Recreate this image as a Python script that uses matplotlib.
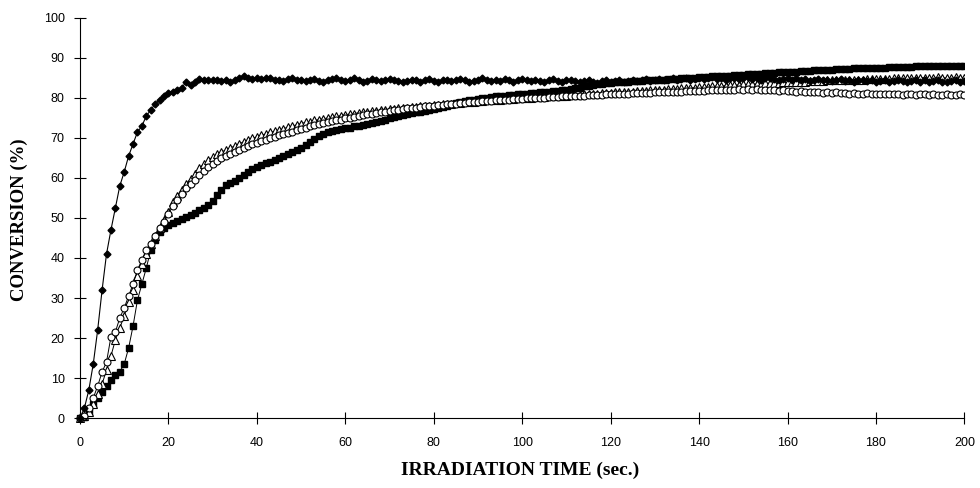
import numpy as np
import matplotlib
matplotlib.use("Agg")
from matplotlib import pyplot as plt

# irradiation time, one reading per second
time = np.arange(0, 201, 1)

# filled diamonds
diamonds = [
    0, 2.5, 7, 13.5, 22, 32, 41, 47, 52.5, 58,
    61.5, 65.5, 68.5, 71.5, 73, 75.5, 77, 78.5, 79.5, 80.5,
    81.2, 81.6, 82, 82.5, 84, 83.3, 84, 84.7, 84.4, 84.5,
    84.6, 84.6, 84.3, 84.5, 84.1, 84.4, 84.9, 85.4, 85.1, 84.8,
    85.0, 84.7, 85.1, 84.9, 84.5, 84.6, 84.3, 84.8, 85.0, 84.6,
    84.4, 84.2, 84.5, 84.8, 84.3, 84.0, 84.4, 84.7, 85.0, 84.6,
    84.3, 84.5, 84.9, 84.4, 84.1, 84.3, 84.7, 84.4, 84.2, 84.6,
    84.8, 84.5, 84.2, 84.0, 84.3, 84.6, 84.4, 84.1, 84.5, 84.7,
    84.3, 84.1, 84.4, 84.6, 84.2, 84.5, 84.8, 84.4, 84.0, 84.3,
    84.6, 84.9, 84.5, 84.2, 84.6, 84.3, 84.7, 84.4, 84.1, 84.5,
    84.8, 84.4, 84.2, 84.6, 84.3, 84.0, 84.4, 84.7, 84.3, 84.1,
    84.4, 84.6, 84.2, 83.9, 84.3, 84.5, 84.1, 83.8, 84.2, 84.4,
    84.0, 84.2, 84.5, 84.1, 84.3, 84.6, 84.2, 84.4, 84.7, 84.3,
    84.5, 84.8, 84.4, 84.6, 84.9, 84.5, 84.7, 85.0, 84.6, 84.8,
    85.1, 84.7, 84.9, 85.2, 84.8, 85.0, 84.6, 84.9, 85.1, 84.7,
    84.9, 85.2, 84.8, 85.0, 84.6, 84.9, 85.1, 84.7, 84.5, 84.8,
    85.0, 84.6, 84.9, 84.5, 84.7, 84.3, 84.6, 84.8, 84.4, 84.6,
    84.2, 84.5, 84.7, 84.3, 84.5, 84.1, 84.4, 84.6, 84.2, 84.4,
    84.0, 84.3, 84.5, 84.1, 84.3, 84.6, 84.2, 84.0, 84.3, 84.5,
    84.1, 84.4, 84.0, 84.2, 84.5, 84.1, 83.9, 84.2, 84.4, 84.0,
    84.2,
]

# open circles
circles = [
    0, 0.5, 2.5, 5, 8, 11.5, 14, 20.3, 21.5, 25,
    27.5, 30.5, 33.5, 37, 39.5, 42, 43.5, 45.5, 47.5, 49,
    51, 53, 54.5, 56, 57.5, 58.5, 59.5, 60.8, 61.8, 62.7,
    63.5, 64.2, 65, 65.5, 66, 66.5, 67, 67.5, 68, 68.4,
    68.8, 69.2, 69.6, 70, 70.3, 70.7, 71, 71.3, 71.6, 72,
    72.3, 72.6, 72.9, 73.2, 73.4, 73.7, 74, 74.2, 74.4, 74.6,
    74.9, 75.1, 75.3, 75.5, 75.7, 75.9, 76.1, 76.3, 76.4, 76.6,
    76.8, 76.9, 77.1, 77.2, 77.4, 77.5, 77.6, 77.8, 77.9, 78.0,
    78.1, 78.2, 78.3, 78.4, 78.5, 78.6, 78.7, 78.8, 78.9, 79.0,
    79.1, 79.2, 79.2, 79.3, 79.4, 79.5, 79.5, 79.6, 79.7, 79.7,
    79.8, 79.9, 79.9, 80.0, 80.1, 80.1, 80.2, 80.2, 80.3, 80.4,
    80.4, 80.5, 80.5, 80.6, 80.6, 80.7, 80.7, 80.8, 80.8, 80.9,
    80.9, 81.0, 81.0, 81.1, 81.1, 81.2, 81.2, 81.2, 81.3, 81.3,
    81.4, 81.4, 81.5, 81.5, 81.5, 81.6, 81.6, 81.7, 81.7, 81.7,
    81.8, 81.8, 81.9, 81.9, 82.0, 82.0, 82.0, 82.1, 82.1, 82.2,
    82.1, 82.2, 82.1, 82.2, 82.0, 82.1, 81.9, 82.0, 81.8, 81.9,
    81.7, 81.8, 81.6, 81.7, 81.5, 81.6, 81.4, 81.5, 81.3, 81.4,
    81.3, 81.4, 81.2, 81.3, 81.1, 81.2, 81.0, 81.1, 81.2, 81.0,
    81.1, 80.9, 81.0, 81.1, 80.9, 81.0, 80.8, 80.9, 81.0, 80.8,
    80.9, 81.0, 80.8, 80.9, 80.7, 80.8, 80.9, 80.7, 80.8, 80.9,
    80.8,
]

# open triangles
triangles = [
    0, 0.5, 1.5, 3.5, 6, 8.5, 12, 15.5, 19.5, 22.5,
    25.5, 29, 32, 35.5, 38.5, 41, 43.5, 45.5, 47.5, 49.5,
    51.5, 54, 55.5, 57, 58.5, 59.8, 61, 62.5, 63.5, 64.5,
    65.2, 66, 66.5, 67, 67.5, 68, 68.6, 69, 69.5, 69.9,
    70.3, 70.7, 71, 71.4, 71.7, 72, 72.3, 72.7, 73, 73.3,
    73.6, 73.9, 74.1, 74.4, 74.6, 74.8, 75.0, 75.2, 75.4, 75.6,
    75.8, 76.0, 76.1, 76.3, 76.4, 76.6, 76.7, 76.8, 77.0, 77.1,
    77.2, 77.3, 77.4, 77.5, 77.6, 77.7, 77.8, 77.9, 78.0, 78.1,
    78.2, 78.3, 78.4, 78.5, 78.6, 78.7, 78.8, 78.9, 79.0, 79.1,
    79.2, 79.3, 79.4, 79.4, 79.5, 79.6, 79.7, 79.7, 79.8, 79.9,
    80.0, 80.0, 80.1, 80.2, 80.2, 80.3, 80.4, 80.4, 80.5, 80.6,
    80.6, 80.7, 80.8, 80.8, 80.9, 81.0, 81.0, 81.1, 81.2, 81.2,
    81.3, 81.4, 81.4, 81.5, 81.6, 81.6, 81.7, 81.8, 81.8, 81.9,
    82.0, 82.0, 82.1, 82.2, 82.2, 82.3, 82.4, 82.4, 82.5, 82.6,
    82.7, 82.7, 82.8, 82.9, 83.0, 83.0, 83.1, 83.2, 83.2, 83.3,
    83.4, 83.4, 83.5, 83.5, 83.6, 83.7, 83.7, 83.8, 83.8, 83.9,
    83.9, 84.0, 84.0, 84.1, 84.1, 84.2, 84.2, 84.3, 84.3, 84.4,
    84.4, 84.4, 84.5, 84.5, 84.5, 84.6, 84.6, 84.6, 84.7, 84.7,
    84.7, 84.8, 84.8, 84.8, 84.9, 84.9, 84.9, 85.0, 85.0, 85.0,
    85.1, 85.1, 85.0, 85.1, 85.2, 85.1, 85.0, 85.1, 85.2, 85.1,
    85.0,
]

# filled squares
squares = [
    0, 0.3, 1.5, 3.5, 5, 6.5, 8, 9.5, 10.8, 11.6,
    13.5, 17.5, 23, 29.5, 33.5, 37.5, 42, 44.5, 46.5, 47.5,
    48.3, 48.8, 49.3, 49.8, 50.3, 50.8, 51.3, 52, 52.6, 53.2,
    54.3, 55.8, 57, 58.2, 58.8, 59.2, 60, 60.8, 61.6, 62.3,
    62.8, 63.3, 63.7, 64.1, 64.5, 65.0, 65.5, 66.1, 66.6, 67.0,
    67.5, 68.2, 69.0, 69.8, 70.5, 71.0, 71.4, 71.7, 72.0, 72.2,
    72.4, 72.6, 72.9, 73.1, 73.3, 73.5, 73.7, 74.0, 74.3, 74.6,
    74.9, 75.2, 75.5, 75.8, 76.0, 76.2, 76.4, 76.6, 76.8, 77.0,
    77.2, 77.5, 77.8, 78.1, 78.4, 78.7, 79.0, 79.2, 79.4, 79.6,
    79.8, 80.0, 80.1, 80.3, 80.4, 80.5, 80.6, 80.7, 80.8, 80.9,
    81.0, 81.1, 81.2, 81.3, 81.4, 81.5, 81.6, 81.7, 81.8, 81.9,
    82.0, 82.2, 82.4, 82.6, 82.9, 83.1, 83.3, 83.5, 83.6, 83.7,
    83.8, 83.9, 84.0, 84.0, 84.1, 84.2, 84.2, 84.3, 84.4, 84.4,
    84.5, 84.6, 84.6, 84.7, 84.8, 84.8, 84.9, 85.0, 85.0, 85.1,
    85.2, 85.2, 85.3, 85.4, 85.4, 85.5, 85.6, 85.6, 85.7, 85.8,
    85.8, 85.9, 86.0, 86.0, 86.1, 86.2, 86.2, 86.3, 86.4, 86.4,
    86.5, 86.6, 86.6, 86.7, 86.8, 86.8, 86.9, 87.0, 87.0, 87.1,
    87.1, 87.2, 87.2, 87.3, 87.3, 87.4, 87.4, 87.5, 87.5, 87.5,
    87.6, 87.6, 87.6, 87.7, 87.7, 87.7, 87.8, 87.8, 87.8, 87.9,
    87.9, 87.9, 88.0, 87.9, 88.0, 88.0, 87.9, 88.0, 88.0, 87.9,
    88.0,
]

x_ticks = np.arange(0, 201, 20)
y_ticks = np.arange(0, 101, 10)

fig = plt.figure(figsize=(9.8, 4.88), dpi=100)
ax = fig.add_axes([0.0771, 0.1352, 0.907, 0.828])

ax.plot(time, squares, color="black", linewidth=0.7, marker="s", markersize=5,
        markerfacecolor="black", markeredgecolor="black")
ax.plot(time, triangles, color="black", linewidth=0.7, marker="^", markersize=5.5,
        markerfacecolor="white", markeredgecolor="black", markeredgewidth=0.8)
ax.plot(time, circles, color="black", linewidth=0.7, marker="o", markersize=5,
        markerfacecolor="white", markeredgecolor="black", markeredgewidth=0.8)
ax.plot(time, diamonds, color="black", linewidth=0.8, marker="D", markersize=3.5,
        markerfacecolor="black", markeredgecolor="black")

ax.set_xlim(-1, 200)
ax.set_ylim(-1, 100)
ax.spines["top"].set_visible(False)
ax.spines["right"].set_visible(False)
ax.spines["left"].set_position(("data", 0))
ax.spines["bottom"].set_position(("data", 0))
ax.spines["left"].set_bounds(0, 100)
ax.spines["bottom"].set_bounds(0, 200)
ax.spines["left"].set_linewidth(0.8)
ax.spines["bottom"].set_linewidth(0.8)

ax.set_xticks(x_ticks)
ax.set_yticks(y_ticks)
ax.tick_params(direction="inout", length=8, width=0.8, labelsize=9)
ax.tick_params(axis="x", pad=10)
ax.tick_params(axis="y", pad=7)
for lab in ax.get_xticklabels() + ax.get_yticklabels():
    lab.set_fontfamily("Liberation Sans")

ax.set_xlabel("IRRADIATION TIME (sec.)", family="Liberation Serif",
              fontweight="bold", fontsize=14, labelpad=9)
ax.set_ylabel("CONVERSION (%)", family="Liberation Serif",
              fontweight="bold", fontsize=13.5, labelpad=11)

fig.savefig("out.png", dpi=100)
